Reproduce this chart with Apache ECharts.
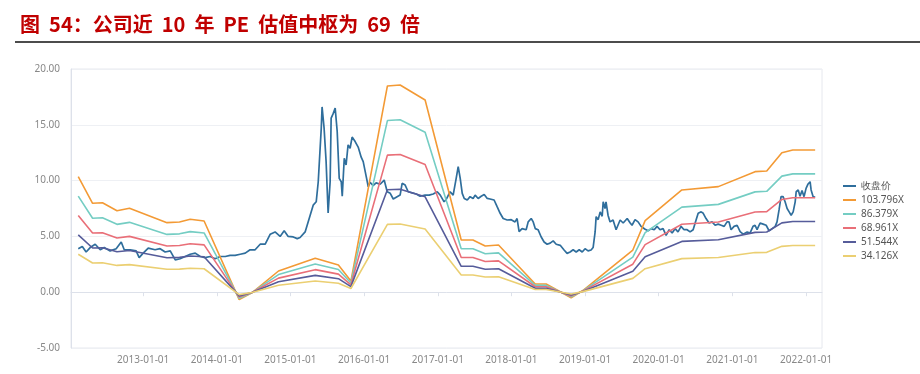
<!DOCTYPE html>
<html>
<head>
<meta charset="utf-8">
<script src="https://cdn.jsdelivr.net/npm/echarts@6/dist/echarts.min.js"></script>
<style>
html,body{margin:0;padding:0;background:#fff;}
#chart{width:920px;height:374px;}
</style>
</head>
<body>
<div id="chart"></div>
<script>
// ---- data ----
var titleText = '图  54：公司近  10  年  PE  估值中枢为  69  倍';
var seriesNames = ['收盘价', '103.796X', '86.379X', '68.961X', '51.544X', '34.126X'];
var yTicks = [-5, 0, 5, 10, 15, 20];

var priceDates = ['2012-02-14','2012-03-05','2012-03-24','2012-04-13','2012-05-08','2012-06-02','2012-06-22','2012-07-21','2012-08-20','2012-09-14','2012-09-29','2012-10-29','2012-11-27','2012-12-12',
'2013-01-01','2013-01-26','2013-03-01','2013-03-26','2013-04-20','2013-05-15','2013-06-09','2013-07-03','2013-07-28','2013-08-22','2013-09-16','2013-10-11','2013-11-04','2013-11-29','2013-12-24',
'2014-01-18','2014-02-12','2014-03-08','2014-04-02','2014-04-27','2014-05-22','2014-06-15','2014-07-10','2014-08-04','2014-08-29','2014-09-23','2014-10-17','2014-11-11','2014-12-01','2014-12-21',
'2015-01-15','2015-02-04','2015-02-18','2015-03-15','2015-04-09','2015-04-24','2015-05-09','2015-05-19','2015-06-03','2015-06-07','2015-06-17','2015-06-27','2015-07-07','2015-07-17','2015-07-22','2015-08-01','2015-08-11','2015-08-21','2015-08-31','2015-09-10','2015-09-15','2015-09-25','2015-10-04','2015-10-14','2015-10-24','2015-11-03','2015-11-18','2015-12-03','2015-12-18','2015-12-28',
'2016-01-12','2016-01-22','2016-01-31','2016-02-15','2016-03-01','2016-03-21','2016-04-10','2016-04-25','2016-05-10','2016-05-25','2016-06-13','2016-06-28','2016-07-08','2016-07-23','2016-08-07','2016-08-27','2016-09-16','2016-10-05','2016-10-30','2016-11-19','2016-12-09','2016-12-29',
'2017-01-13','2017-02-01','2017-02-11','2017-03-03','2017-03-18','2017-04-02','2017-04-12','2017-04-22','2017-05-02','2017-05-12','2017-05-27','2017-06-10','2017-06-25','2017-07-05','2017-07-20','2017-08-04','2017-08-19','2017-09-03','2017-09-17','2017-10-07','2017-10-22','2017-11-06','2017-11-21','2017-12-11','2017-12-31',
'2018-01-19','2018-01-29','2018-02-08','2018-02-23','2018-03-15','2018-03-25','2018-04-09','2018-04-19','2018-04-29','2018-05-13','2018-05-28','2018-06-12','2018-06-27','2018-07-12','2018-07-27','2018-08-11','2018-08-31','2018-09-19','2018-10-04','2018-10-19','2018-11-03','2018-11-18','2018-12-03','2018-12-18',
'2019-01-01','2019-01-16','2019-01-31','2019-02-10','2019-02-20','2019-02-25','2019-03-07','2019-03-17','2019-03-27','2019-04-01','2019-04-10','2019-04-15','2019-04-25','2019-05-05','2019-05-20','2019-06-04','2019-06-24','2019-07-09','2019-07-29','2019-08-13','2019-08-22','2019-09-06','2019-09-21','2019-10-06','2019-10-26','2019-11-10','2019-11-25','2019-12-10','2019-12-24',
'2020-01-08','2020-01-23','2020-02-07','2020-02-22','2020-03-08','2020-03-23','2020-04-06','2020-04-21','2020-05-06','2020-05-21','2020-06-05','2020-06-20','2020-07-05','2020-07-15','2020-07-30','2020-08-09','2020-08-23','2020-09-07','2020-09-22','2020-10-07','2020-10-22','2020-11-06','2020-11-21','2020-12-05','2020-12-15','2020-12-25',
'2021-01-09','2021-01-24','2021-02-08','2021-02-23','2021-03-15','2021-03-29','2021-04-13','2021-04-23','2021-05-03','2021-05-18','2021-06-02','2021-06-17','2021-07-02','2021-07-17','2021-08-01','2021-08-10','2021-08-20','2021-08-30','2021-09-09','2021-09-19','2021-09-29','2021-10-09','2021-10-19','2021-10-29','2021-11-08','2021-11-13','2021-11-23','2021-12-02','2021-12-12','2021-12-22',
'2022-01-01','2022-01-11','2022-01-21','2022-01-26','2022-02-05','2022-02-15'];

var priceValues = [3.9,4.1,3.6,4.0,4.3,3.8,4.0,3.7,3.9,4.5,3.8,3.8,3.7,3.1,
3.5,3.95,3.8,3.9,3.6,3.7,2.9,3.0,3.2,3.4,3.5,3.2,3.1,3.2,3.0,
3.2,3.2,3.3,3.3,3.4,3.5,3.8,3.8,4.3,4.3,5.2,5.4,5.0,5.5,5.0,
4.95,4.8,4.9,5.4,6.9,7.8,8.1,9.9,14.7,16.6,14.7,11.7,7.1,9.9,15.6,16.0,16.5,14.4,10.2,9.9,8.6,12.0,11.4,13.2,12.9,13.9,13.5,13.0,12.1,11.7,
10.35,9.45,9.85,9.55,9.8,9.67,10.05,9.0,8.86,8.35,8.55,8.7,9.76,9.6,9.0,8.9,8.8,8.6,8.7,8.7,8.8,9.0,
8.7,8.1,8.3,9.0,8.7,10.2,11.25,10.2,8.86,8.4,8.26,8.56,8.4,8.7,8.4,8.6,8.75,8.4,8.35,8.26,7.66,7.07,6.6,6.47,6.5,
6.3,6.6,5.42,5.7,5.6,6.3,6.6,6.3,5.7,5.6,4.97,4.5,4.3,4.4,4.6,4.3,4.2,3.78,3.48,3.6,3.8,3.6,3.8,3.6,
3.9,3.7,3.78,4.0,5.4,6.77,6.5,7.2,6.8,8.1,7.5,8.1,6.9,6.3,6.47,5.6,6.47,6.2,6.6,6.2,6.0,6.5,6.3,5.9,5.64,5.5,5.7,5.6,5.9,
5.6,5.7,5.1,5.6,5.3,5.7,5.4,5.9,5.6,5.6,5.4,5.6,6.5,7.07,7.2,7.07,6.6,6.2,6.3,6.0,6.1,6.0,5.9,6.3,6.3,5.6,
5.9,6.0,5.42,5.2,5.4,5.3,5.9,6.0,5.6,6.2,6.1,6.0,5.5,5.7,5.9,6.3,7.37,8.56,8.56,8.1,7.5,7.2,6.9,7.2,8.1,9.0,9.16,8.6,9.1,8.56,
9.3,9.7,9.9,9.16,8.56,8.5];

var bandDates = ['2012-02-14','2012-04-25','2012-06-13','2012-08-24','2012-10-25','2013-04-29','2013-06-30','2013-08-22','2013-10-30',
'2014-04-22','2014-06-24','2014-11-03','2015-05-04','2015-08-27','2015-10-28','2016-04-26','2016-06-28','2016-10-30',
'2017-04-27','2017-06-24','2017-08-24','2017-10-29','2018-04-29','2018-06-22','2018-10-24','2018-12-21',
'2019-08-26','2019-10-26','2020-04-25','2020-10-23','2021-04-23','2021-06-20','2021-09-03','2021-10-27','2022-02-15'];

var band103796 = [10.35,7.97,8.02,7.30,7.52,6.23,6.29,6.53,6.38,-0.66,-0.05,1.90,3.04,2.44,1.00,18.48,18.57,17.22,4.68,4.68,4.14,4.23,0.73,0.73,-0.50,0.15,3.78,6.41,9.16,9.46,10.80,10.86,12.50,12.74,12.74];
var band86379  = [8.61,6.63,6.67,6.08,6.26,5.18,5.23,5.43,5.31,-0.55,-0.04,1.58,2.53,2.03,0.83,15.38,15.45,14.33,3.89,3.89,3.45,3.52,0.61,0.61,-0.42,0.12,3.15,5.33,7.62,7.87,8.99,9.04,10.40,10.60,10.60];
var band68961  = [6.88,5.30,5.33,4.85,5.00,4.14,4.18,4.34,4.24,-0.44,-0.03,1.26,2.02,1.62,0.66,12.28,12.34,11.44,3.11,3.11,2.75,2.81,0.49,0.49,-0.33,0.10,2.51,4.26,6.09,6.29,7.18,7.22,8.31,8.46,8.46];
var band51544  = [5.14,3.96,3.98,3.63,3.73,3.09,3.12,3.24,3.17,-0.33,-0.02,0.94,1.51,1.21,0.50,9.18,9.22,8.55,2.32,2.32,2.06,2.10,0.36,0.36,-0.25,0.07,1.88,3.18,4.55,4.70,5.36,5.39,6.21,6.33,6.33];
var band34126  = [3.40,2.62,2.64,2.40,2.47,2.05,2.07,2.15,2.10,-0.22,-0.02,0.62,1.00,0.80,0.33,6.08,6.11,5.66,1.54,1.54,1.36,1.39,0.24,0.24,-0.16,0.05,1.24,2.11,3.01,3.11,3.55,3.57,4.11,4.19,4.19];

// ---- build options ----
function pairs(dates, vals) {
  var out = [];
  for (var i = 0; i < vals.length; i++) out.push([dates[i], vals[i]]);
  return out;
}
var colors = ['#2f6e9c', '#f39a35', '#74cdc3', '#e96f78', '#565c9a', '#ebcf72'];
var bandSets = [band103796, band86379, band68961, band51544, band34126];

var series = [{
  name: seriesNames[0], type: 'line', data: pairs(priceDates, priceValues),
  showSymbol: false, symbol: 'none', lineStyle: { width: 1.7, color: colors[0] }, itemStyle: { color: colors[0] }
}];
for (var k = 0; k < bandSets.length; k++) {
  series.push({
    name: seriesNames[k + 1], type: 'line', data: pairs(bandDates, bandSets[k]),
    showSymbol: false, symbol: 'none', lineStyle: { width: 1.6, color: colors[k + 1] }, itemStyle: { color: colors[k + 1] }
  });
}

var chart = echarts.init(document.getElementById('chart'), null, { renderer: 'canvas' });
chart.setOption({
  animation: false,
  color: colors,
  title: {
    text: titleText, left: 15, top: 9,
    textStyle: { fontFamily: 'Noto Sans CJK SC', fontWeight: 'bold', fontSize: 20, color: '#c00000' }
  },
  graphic: [{
    type: 'line', shape: { x1: 15, y1: 42, x2: 920, y2: 42 },
    style: { stroke: '#111', lineWidth: 1.6 }
  }],
  legend: {
    orient: 'vertical', left: 838, top: 175,
    icon: 'rect', itemWidth: 13, itemHeight: 2, itemGap: 2,
    data: seriesNames,
    textStyle: { fontFamily: 'Noto Sans', fontSize: 10, color: '#555', lineHeight: 12, padding: [0, 0, 0, 0] }
  },
  grid: { left: 71, right: 98, top: 69, bottom: 26, show: true, borderColor: '#e6e8ee', borderWidth: 1 },
  xAxis: {
    type: 'time', min: '2012-01-09', max: '2022-03-21',
    splitNumber: 10, minInterval: 365 * 86400000, maxInterval: 366 * 86400000,
    axisLine: { lineStyle: { color: '#dde1ea' } },
    axisTick: { show: true, length: 4, lineStyle: { color: '#dde1ea' } },
    splitLine: { show: false },
    axisLabel: {
      formatter: '{yyyy}-{MM}-{dd}', showMinLabel: false, showMaxLabel: false,
      color: '#888', fontFamily: 'Noto Sans', fontSize: 10, margin: 7
    }
  },
  yAxis: {
    type: 'value', min: yTicks[0], max: yTicks[yTicks.length - 1], interval: 5,
    axisLine: { show: true, lineStyle: { color: '#dde1ea' } },
    axisTick: { show: false },
    splitLine: { lineStyle: { color: '#eef0f4' } },
    axisLabel: {
      formatter: function (v) { return v.toFixed(2); },
      color: '#888', fontFamily: 'Noto Sans', fontSize: 10, margin: 11
    }
  },
  series: series
});
</script>
</body>
</html>
